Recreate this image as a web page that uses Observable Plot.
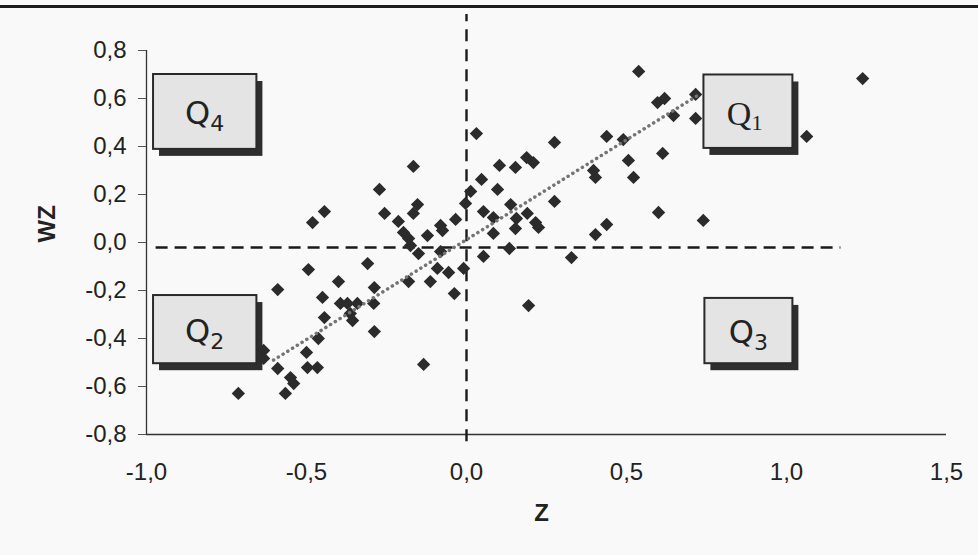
<!DOCTYPE html>
<html><head><meta charset="utf-8">
<script src="https://cdn.jsdelivr.net/npm/d3@7"></script>
<script src="https://cdn.jsdelivr.net/npm/@observablehq/plot@0.6"></script>
<style>
body{margin:0;background:#f9f9f9;}
#wrap{position:relative;width:978px;height:555px;overflow:hidden;}
#topline{position:absolute;left:0;top:5px;width:978px;height:3px;background:#1c1c1c;}
</style></head><body>
<div id="wrap"><div id="topline"></div><div id="chart"></div></div>
<script>
// Z values (standardised variable)
const zValues = [
  0.031,-0.166,-0.272,-0.444,-0.481,-0.256,-0.213,-0.153,-0.166,-0.197,
  -0.181,-0.175,-0.150,-0.122,-0.081,-0.075,-0.034,-0.003,0.013,0.047,
  0.103,0.153,0.188,0.209,0.097,0.275,0.053,0.084,0.084,0.138,
  0.156,0.153,0.190,0.216,0.225,0.134,0.053,-0.081,-0.091,-0.056,
  -0.009,-0.309,-0.181,0.275,0.438,0.490,0.506,0.522,0.613,0.600,
  0.403,0.438,0.397,0.403,0.328,0.538,0.597,0.619,0.716,0.716,
  0.647,1.238,1.063,0.740,-0.494,-0.590,-0.400,-0.288,-0.450,-0.394,
  -0.372,-0.341,-0.290,-0.444,-0.363,-0.356,-0.288,-0.463,-0.500,-0.497,
  -0.466,-0.590,-0.634,-0.634,-0.550,-0.540,-0.566,-0.713,-0.134,-0.113,
  -0.038,0.194
];
// WZ values (spatial lag)
const wzValues = [
  0.454,0.317,0.221,0.129,0.083,0.121,0.088,0.158,0.121,0.042,
  0.017,-0.013,-0.046,0.029,0.071,0.050,0.096,0.163,0.213,0.263,
  0.321,0.313,0.354,0.333,0.221,0.171,0.129,0.104,0.038,0.158,
  0.100,0.058,0.121,0.083,0.063,-0.025,-0.058,-0.038,-0.108,-0.125,
  -0.108,-0.088,-0.163,0.417,0.442,0.429,0.342,0.271,0.371,0.125,
  0.033,0.075,0.300,0.271,-0.063,0.713,0.583,0.600,0.617,0.517,
  0.529,0.683,0.442,0.092,-0.113,-0.196,-0.163,-0.188,-0.229,-0.254,
  -0.254,-0.254,-0.254,-0.313,-0.296,-0.325,-0.371,-0.400,-0.458,-0.521,
  -0.521,-0.525,-0.450,-0.483,-0.563,-0.588,-0.629,-0.629,-0.508,-0.163,
  -0.213,-0.263
];
const xTicks = [-1, -0.5, 0, 0.5, 1, 1.5];
const yTicks = [-0.8, -0.6, -0.4, -0.2, 0, 0.2, 0.4, 0.6, 0.8];

// quadrant label boxes
const quadNames = ["1", "2", "3", "4"];
const boxX1 = [0.742, -0.978, 0.745, -0.978];
const boxX2 = [1.020, -0.655, 1.020, -0.655];
const boxY1 = [0.392, -0.505, -0.505, 0.388];
const boxY2 = [0.698, -0.221, -0.233, 0.700];

// trend line end points
const trendZ = [-0.603, 0.731];
const trendWZ = [-0.49, 0.62];

// mean reference lines
const meanWZ = -0.021;
const hLineZ = [-0.97, 1.17];
const meanZ = 0;
const vLineWZ = [-0.83, 0.95];

const points = zValues.map((z, i) => ({z, wz: wzValues[i]}));
const boxes = quadNames.map((q, i) => ({
  q, x1: boxX1[i], x2: boxX2[i], y1: boxY1[i], y2: boxY2[i],
  cx: (boxX1[i] + boxX2[i]) / 2, cy: (boxY1[i] + boxY2[i]) / 2
}));
const trend = trendZ.map((z, i) => ({z, wz: trendWZ[i]}));
const fmt = v => (+v).toFixed(1).replace(".", ",");

const sansQ = "'DejaVu Sans', Verdana, sans-serif";
const serifQ = "'Liberation Serif', 'DejaVu Serif', serif";

const chart = Plot.plot({
  width: 978, height: 555,
  marginLeft: 146, marginRight: 32, marginTop: 50, marginBottom: 121,
  style: {background: "transparent", fontFamily: "'Liberation Sans', Arial, sans-serif", fontSize: "24px", color: "#222"},
  x: {domain: [-1, 1.5]},
  y: {domain: [-0.8, 0.8]},
  marks: [
    Plot.ruleX([-1], {stroke: "#333", strokeWidth: 1.3}),
    Plot.ruleY([-0.8], {stroke: "#333", strokeWidth: 1.3}),
    Plot.axisY({ticks: yTicks, tickSize: 8, tickPadding: 12, tickFormat: fmt, label: null, fontSize: 24, stroke: "#555"}),
    Plot.axisX({ticks: xTicks, tickSize: 0, tickPadding: 28, tickFormat: fmt, label: null, fontSize: 24}),
    // reference lines
    Plot.ruleY([meanWZ], {x1: hLineZ[0], x2: hLineZ[1], stroke: "#1a1a1a", strokeWidth: 2.4, strokeDasharray: "12,7"}),
    Plot.ruleX([meanZ], {y1: vLineWZ[0], y2: vLineWZ[1], stroke: "#1a1a1a", strokeWidth: 2.4, strokeDasharray: "12,8"}),
    // quadrant boxes: shadow then box
    Plot.rect(boxes, {x1: "x1", x2: "x2", y1: "y1", y2: "y2", fill: "#2e2e2e", dx: 6, dy: 7}),
    Plot.rect(boxes, {x1: "x1", x2: "x2", y1: "y1", y2: "y2", fill: "#e4e4e4", stroke: "#2a2a2a", strokeWidth: 2}),
    Plot.text(boxes.filter(b => b.q !== "1"), {x: "cx", y: "cy", text: () => "Q", textAnchor: "end", lineAnchor: "bottom", dx: 5, dy: 12, fontSize: 32, fontFamily: sansQ, fill: "#222"}),
    Plot.text(boxes.filter(b => b.q !== "1"), {x: "cx", y: "cy", text: "q", textAnchor: "start", lineAnchor: "bottom", dx: 5, dy: 19, fontSize: 22, fontFamily: sansQ, fill: "#222"}),
    Plot.text(boxes.filter(b => b.q === "1"), {x: "cx", y: "cy", text: () => "Q", textAnchor: "end", lineAnchor: "bottom", dx: 3, dy: 13, fontSize: 34, fontFamily: serifQ, fill: "#222"}),
    Plot.text(boxes.filter(b => b.q === "1"), {x: "cx", y: "cy", text: "q", textAnchor: "start", lineAnchor: "bottom", dx: 3, dy: 18, fontSize: 22, fontFamily: serifQ, fill: "#222"}),
    // points
    Plot.dot(points, {x: "z", y: "wz", symbol: "diamond2", r: 6, fill: "#2b2b2b", stroke: "none"}),
    // trend line
    Plot.line(trend, {x: "z", y: "wz", stroke: "#747474", strokeWidth: 3.5, strokeDasharray: "0.1,5.5", strokeLinecap: "round"}),
    // axis titles
    Plot.text(["WZ"], {text: d => d, frameAnchor: "left", dx: -99, rotate: -90, fontWeight: "bold", fontSize: 24, fill: "#222"}),
    Plot.text(["Z"], {text: d => d, frameAnchor: "bottom", dy: 86, dx: -5, fontWeight: "bold", fontSize: 24, fill: "#222"})
  ]
});
document.getElementById("chart").appendChild(chart);
</script>
</body></html>
